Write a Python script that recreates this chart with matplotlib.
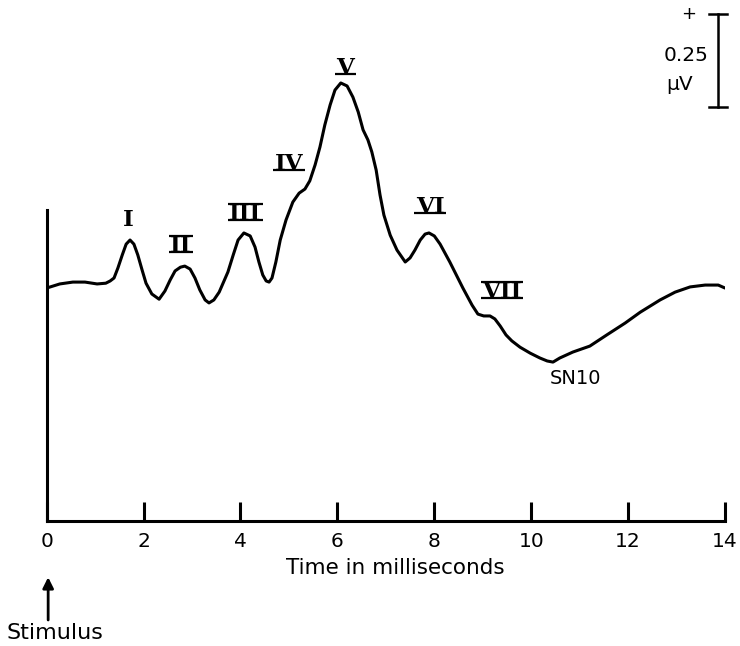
import matplotlib
matplotlib.use("Agg")
import matplotlib.pyplot as plt

# Averaged auditory brainstem response, amplitude in microvolts vs. time (ms)
time_ms = [0.0, 0.27, 0.54, 0.79, 1.04, 1.22, 1.31, 1.39, 1.47, 1.56, 1.64, 1.72,
           1.80, 1.88, 1.97, 2.05, 2.17, 2.32, 2.44, 2.55, 2.65, 2.76, 2.85, 2.96,
           3.06, 3.16, 3.27, 3.35, 3.45, 3.56, 3.64, 3.74, 3.85, 3.95, 4.07, 4.20,
           4.30, 4.38, 4.46, 4.53, 4.59, 4.65, 4.73, 4.82, 4.94, 5.08, 5.21, 5.33,
           5.43, 5.54, 5.64, 5.74, 5.85, 5.95, 6.07, 6.20, 6.32, 6.43, 6.53, 6.63,
           6.71, 6.80, 6.88, 6.96, 7.09, 7.23, 7.40, 7.50, 7.60, 7.71, 7.81, 7.89,
           8.00, 8.12, 8.32, 8.59, 8.78, 8.90, 9.02, 9.15, 9.25, 9.36, 9.48, 9.60,
           9.77, 9.98, 10.18, 10.33, 10.45, 10.59, 10.86, 11.21, 11.56, 11.94,
           12.25, 12.66, 12.97, 13.28, 13.59, 13.86, 14.0]
amplitude_uv = [0.000, 0.011, 0.016, 0.016, 0.011, 0.013, 0.019, 0.027, 0.054,
                0.089, 0.118, 0.129, 0.118, 0.089, 0.048, 0.013, -0.016, -0.030,
                -0.008, 0.022, 0.046, 0.056, 0.059, 0.051, 0.027, -0.005, -0.032,
                -0.040, -0.032, -0.011, 0.013, 0.043, 0.089, 0.129, 0.148, 0.140,
                0.110, 0.070, 0.035, 0.019, 0.016, 0.027, 0.070, 0.129, 0.183,
                0.231, 0.255, 0.266, 0.288, 0.331, 0.379, 0.438, 0.492, 0.532,
                0.551, 0.543, 0.513, 0.473, 0.425, 0.398, 0.366, 0.317, 0.250,
                0.196, 0.142, 0.102, 0.070, 0.081, 0.102, 0.129, 0.145, 0.148,
                0.140, 0.118, 0.070, 0.000, -0.046, -0.070, -0.075, -0.075,
                -0.083, -0.102, -0.126, -0.142, -0.159, -0.175, -0.188, -0.196,
                -0.199, -0.188, -0.172, -0.156, -0.126, -0.094, -0.065, -0.032,
                -0.011, 0.003, 0.008, 0.008, 0.000]

# Wave labels and the centre of each label (ms, µV)
wave_labels = ["I", "II", "III", "IV", "V", "VI", "VII"]
wave_label_t = [1.68, 2.77, 4.10, 5.00, 6.16, 7.91, 9.40]
wave_label_v = [0.188, 0.118, 0.204, 0.339, 0.597, 0.223, -0.005]
# Bars drawn over / under each numeral
wave_top_bar = [False, True, True, False, False, False, True]
wave_bottom_bar = [False, True, True, True, True, True, True]

x_ticks = [0, 2, 4, 6, 8, 10, 12, 14]
x_tick_labels = ["0", "2", "4", "6", "8", "10", "12", "14"]

scale_bar_uv = 0.25

W, H = 740, 646
DPI = 100
fig = plt.figure(figsize=(W / DPI, H / DPI), dpi=DPI)
ax_left, ax_right, ax_bottom_px = 46.7, 725.0, 521.0
ax = fig.add_axes([ax_left / W, (H - ax_bottom_px) / H,
                   (ax_right - ax_left) / W, ax_bottom_px / H])
ax.set_xlim(0, 14)
ax.set_ylim(-0.626, 0.774)

lw = 2.2
ax.plot(time_ms, amplitude_uv, color="black", lw=lw, solid_capstyle="round",
        solid_joinstyle="round")

for s in ("top", "right"):
    ax.spines[s].set_visible(False)
for s in ("left", "bottom"):
    ax.spines[s].set_linewidth(lw)
ax.spines["left"].set_bounds(-0.626, 0.210)

ax.set_yticks([])
ax.set_xticks(x_ticks)
ax.set_xticklabels(x_tick_labels, fontsize=14.5, family="DejaVu Sans")
ax.tick_params(axis="x", direction="in", length=13.5, width=lw, pad=8)

ax.set_xlabel("Time in milliseconds", fontsize=15.5, family="DejaVu Sans")
ax.xaxis.set_label_coords(0.5135, -0.090)
ax.xaxis.label.set_va("center")

# Roman numeral wave labels, placed on their baseline so bars can be added
numeral_size = 16.5
cap_px = numeral_size * DPI / 72 * 0.729
to_data = ax.transData.inverted()
numeral_texts = []
for lab, t, v in zip(wave_labels, wave_label_t, wave_label_v):
    xc, yc = ax.transData.transform((t, v))
    _, vb = to_data.transform((xc, yc - cap_px / 2))
    txt = ax.text(t, vb, lab, ha="center", va="baseline",
                  fontsize=numeral_size, family="DejaVu Serif",
                  fontweight="bold")
    numeral_texts.append((txt, t, vb))

fig.canvas.draw()
renderer = fig.canvas.get_renderer()
for (txt, t, vb), top, bottom in zip(numeral_texts, wave_top_bar,
                                     wave_bottom_bar):
    bb = txt.get_window_extent(renderer)
    _, yb = ax.transData.transform((t, vb))
    rows = []
    if bottom:
        rows.append(yb + 0.5)
    if top:
        rows.append(yb + cap_px - 0.5)
    for yr in rows:
        (xa, ya), (xb, _) = to_data.transform([(bb.x0 - 1.5, yr),
                                               (bb.x1 + 1.5, yr)])
        ax.plot([xa, xb], [ya, ya], color="black", lw=1.6, clip_on=False,
                solid_capstyle="butt")

ax.text(10.92, -0.242, "SN10", ha="center", va="center", fontsize=14,
        family="DejaVu Sans")

# Amplitude calibration bar
bar_t = 13.86
bar_top = 0.737
cap = 0.19
ax.plot([bar_t, bar_t], [bar_top, bar_top - scale_bar_uv], color="black",
        lw=1.8, clip_on=False)
for yv in (bar_top, bar_top - scale_bar_uv):
    ax.plot([bar_t - cap, bar_t + cap], [yv, yv], color="black", lw=1.8,
            clip_on=False)
ax.text(13.24, 0.737, "+", ha="center", va="center", fontsize=13,
        family="DejaVu Sans")
ax.text(12.74, 0.626, f"{scale_bar_uv:g}", ha="left", va="center",
        fontsize=14.5, family="DejaVu Sans")
ax.text(12.78, 0.548, "µV", ha="left", va="center", fontsize=14.5,
        family="DejaVu Sans")

# Stimulus onset marker
ax.annotate("", xy=(0.03, -0.777), xytext=(0.03, -0.892),
            xycoords="data", textcoords="data", annotation_clip=False,
            arrowprops=dict(arrowstyle="-|>", color="black", lw=2,
                            mutation_scale=16, shrinkA=0, shrinkB=0))
ax.text(0.17, -0.927, "Stimulus", ha="center", va="center", fontsize=16,
        family="DejaVu Sans")

fig.savefig("out.png", dpi=DPI)
